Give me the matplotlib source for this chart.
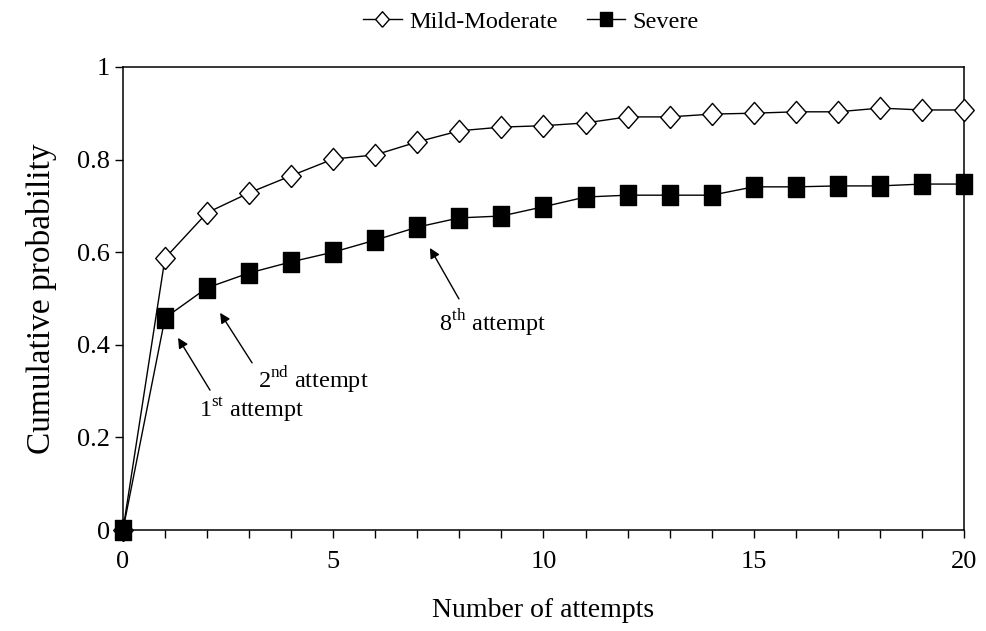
import matplotlib
matplotlib.use("Agg")
import matplotlib.pyplot as plt
from matplotlib.ticker import MultipleLocator

plt.rcParams["font.family"] = ["Liberation Serif", "DejaVu Serif"]
plt.rcParams["mathtext.fontset"] = "custom"
plt.rcParams["mathtext.rm"] = "Liberation Serif"

attempts = list(range(0, 21))
mild_moderate = [0.0, 0.587, 0.685, 0.728, 0.765, 0.801, 0.810, 0.838, 0.862, 0.870,
                 0.873, 0.879, 0.892, 0.892, 0.898, 0.900, 0.903, 0.903, 0.911, 0.907, 0.907]
severe = [0.0, 0.458, 0.523, 0.555, 0.579, 0.600, 0.626, 0.654, 0.674, 0.678,
          0.698, 0.719, 0.723, 0.723, 0.723, 0.741, 0.741, 0.743, 0.743, 0.747, 0.747]

# (label, arrow head, arrow tail, text centre) in data coords
annotations = [
    ("1$^{\\mathrm{st}}$ attempt", (1.31, 0.415), (2.07, 0.302), (3.07, 0.259)),
    ("2$^{\\mathrm{nd}}$ attempt", (2.31, 0.469), (3.07, 0.361), (4.52, 0.324)),
    ("8$^{\\mathrm{th}}$ attempt", (7.30, 0.609), (7.99, 0.499), (8.78, 0.447)),
]

# markers in the source are a bit taller than wide
tall_box = [(-0.38, -0.5), (0.38, -0.5), (0.38, 0.5), (-0.38, 0.5), (-0.38, -0.5)]
tall_diamond = [(0, -0.5), (0.44, 0), (0, 0.5), (-0.44, 0), (0, -0.5)]

fig = plt.figure(figsize=(9.86, 6.31), dpi=100)
ax = fig.add_axes([0.1247, 0.160, 0.853, 0.734])

ax.plot(attempts, mild_moderate, color="black", lw=1.0, marker=tall_diamond, markersize=16,
        markerfacecolor="white", markeredgecolor="black", markeredgewidth=1.0,
        label="Mild-Moderate", zorder=3, clip_on=False)
ax.plot(attempts, severe, color="black", lw=1.0, marker=tall_box, markersize=15,
        markerfacecolor="black", markeredgecolor="black",
        label="Severe", zorder=3, clip_on=False)

for text, head, tail, pos in annotations:
    ax.annotate("", xy=head, xytext=tail,
                arrowprops=dict(arrowstyle="-|>", color="black", lw=1.0,
                                mutation_scale=15, shrinkA=0, shrinkB=0))
    ax.text(pos[0], pos[1], text, fontsize=17.5, ha="center", va="center")

ax.set_xlim(0, 20)
ax.set_ylim(0, 1)
ax.xaxis.set_major_locator(MultipleLocator(5))
ax.xaxis.set_minor_locator(MultipleLocator(1))
ax.set_yticks([0, 0.2, 0.4, 0.6, 0.8, 1])
ax.set_yticklabels(["0", "0.2", "0.4", "0.6", "0.8", "1"])
ax.tick_params(which="both", direction="out", length=6, width=1.0, labelsize=19)
ax.tick_params(axis="x", which="both", pad=9)
for sp in ax.spines.values():
    sp.set_linewidth(1.1)

ax.set_xlabel("Number of attempts", fontsize=20, labelpad=18)
ax.set_ylabel("Cumulative probability", fontsize=24, labelpad=14)

ax.legend(loc="center", bbox_to_anchor=(0.485, 1.097), ncol=2, frameon=False,
          fontsize=17.5, handlelength=1.6, handletextpad=0.3, columnspacing=1.2,
          markerscale=0.7)

fig.savefig("out.png", dpi=100)
